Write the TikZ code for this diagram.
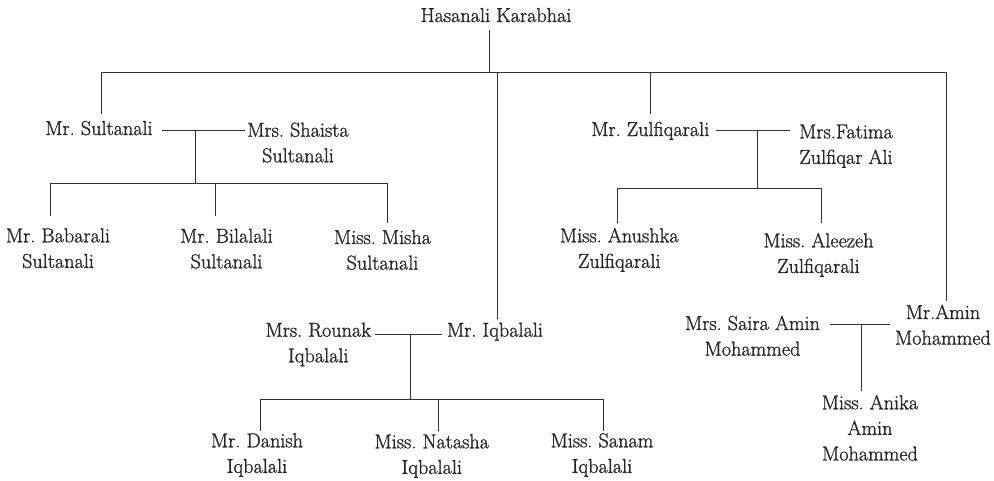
\documentclass[tikz,border=0pt]{standalone}
\usepackage{fontspec}
\setmainfont{Latin Modern Roman}[FakeBold=1.2]
\usetikzlibrary{calc}
\frenchspacing
\newcommand{\ml}[1]{\begin{tabular}[t]{@{}c@{}}#1\end{tabular}}
\tikzset{
  person/.style={anchor=base, inner sep=0pt, outer sep=0pt, text=black!85,
                 font=\fontsize{20.2}{25.6}\selectfont\frenchspacing},
  link/.style={draw=black!80, line width=0.9pt}
}
\begin{document}
\begin{tikzpicture}[x=1pt,y=-1pt]
\useasboundingbox (0,0) rectangle (994,480);
% people
\node[person] (root) at (496,22) {\ml{Hasanali Karabhai}};
\node[person] (sult) at (99,135) {\ml{Mr. Sultanali}};
\node[person] (shai) at (298,136.7) {\ml{Mrs. Shaista\\Sultanali}};
\node[person] (bab) at (58,242.3) {\ml{Mr. Babarali\\Sultanali}};
\node[person] (bil) at (226.5,242.7) {\ml{Mr. Bilalali\\Sultanali}};
\node[person] (mis) at (382.5,244) {\ml{Miss. Misha\\Sultanali}};
\node[person] (zul) at (650.3,136) {\ml{Mr. Zulfiqarali}};
\node[person] (fat) at (846,138.3) {\ml{Mrs.Fatima\\Zulfiqar Ali}};
\node[person] (anu) at (619.3,242.3) {\ml{Miss. Anushka\\Zulfiqarali}};
\node[person] (ale) at (818.5,247.3) {\ml{Miss. Aleezeh\\Zulfiqarali}};
\node[person] (iqb) at (495,336.7) {\ml{Mr. Iqbalali}};
\node[person] (rou) at (318.3,336.7) {\ml{Mrs. Rounak\\Iqbalali}};
\node[person] (dan) at (257,447.3) {\ml{Mr. Danish\\Iqbalali}};
\node[person] (nat) at (431.8,448.3) {\ml{Miss. Natasha\\Iqbalali}};
\node[person] (san) at (602,447.3) {\ml{Miss. Sanam\\Iqbalali}};
\node[person] (amin) at (943,319) {\ml{Mr.Amin\\Mohammed}};
\node[person] (sai) at (752.5,330) {\ml{Mrs. Saira Amin\\Mohammed}};
\node[person] (ank) at (870,409.3) {\ml{Miss. Anika\\Amin\\Mohammed}};
% top level
\coordinate (rj) at (489.3,72);
\coordinate (b1) at (101.7,72);
\coordinate (b2) at (497.7,72);
\coordinate (b3) at (650.7,72);
\coordinate (b4) at (946.7,72);
\draw[link] (root.south -| rj) -- (rj);
\draw[link] (b1) -- (b4);
\draw[link] (b1) -- ($(sult.north -| b1)+(0,-3)$);
\draw[link] (b2) -- (iqb.north -| b2);
\draw[link] (b3) -- ($(zul.north -| b3)+(0,-4)$);
\draw[link] (b4) -- (amin.north -| b4);
% Sultanali family
\coordinate (j1) at (195,130.7);
\coordinate (k1) at (195,183);
\coordinate (k1a) at (50.7,183);
\coordinate (k1b) at (215.3,183);
\coordinate (k1c) at (387.3,183);
\draw[link] ($(sult.east |- j1)+(9,0)$) -- ($(shai.west |- j1)+(-2,0)$);
\draw[link] (j1) -- (k1);
\draw[link] (k1a) -- (k1c);
\draw[link] (k1a) -- ($(bab.north -| k1a)+(0,-8.7)$);
\draw[link] (k1b) -- ($(bil.north -| k1b)+(0,-9)$);
\draw[link] (k1c) -- ($(mis.north -| k1c)+(0,-3)$);
% Zulfiqarali family
\coordinate (j2) at (757.3,130.7);
\coordinate (k2) at (757.3,188.3);
\coordinate (k2a) at (617,188.3);
\coordinate (k2b) at (821.3,188.3);
\draw[link] ($(zul.east |- j2)+(7,0)$) -- ($(fat.west |- j2)+(-9,0)$);
\draw[link] (j2) -- (k2);
\draw[link] (k2a) -- (k2b);
\draw[link] (k2a) -- ($(anu.north -| k2a)+(0,-1)$);
\draw[link] (k2b) -- ($(ale.north -| k2b)+(0,-6)$);
% Iqbalali family
\coordinate (j3) at (410,334);
\coordinate (k3) at (410,399);
\coordinate (k3a) at (260,399);
\coordinate (k3b) at (438.3,399);
\coordinate (k3c) at (603.3,399);
\draw[link] ($(rou.east |- j3)+(4,0)$) -- ($(iqb.west |- j3)+(-5,0)$);
\draw[link] (j3) -- (k3);
\draw[link] (k3a) -- (k3c);
\draw[link] (k3a) -- ($(dan.north -| k3a)+(0,2)$);
\draw[link] (k3b) -- ($(nat.north -| k3b)+(0,1)$);
\draw[link] (k3c) -- ($(san.north -| k3c)+(0,2)$);
% Amin family
\coordinate (j4) at (861,324.3);
\draw[link] ($(sai.east |- j4)+(10,0)$) -- ($(amin.west |- j4)+(-5,0)$);
\draw[link] (j4) -- (ank.north -| j4);
\end{tikzpicture}
\end{document}
